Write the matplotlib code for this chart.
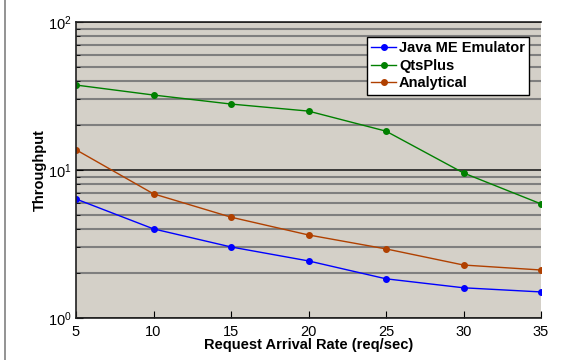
import numpy as np
import matplotlib
matplotlib.use("Agg")
import matplotlib.pyplot as plt
from matplotlib.lines import Line2D

plt.rcParams['font.family'] = ['Liberation Sans', 'DejaVu Sans']
plt.rcParams['mathtext.fontset'] = 'custom'
plt.rcParams['mathtext.rm'] = 'Liberation Sans'

# Data
rate = [5, 10, 15, 20, 25, 30, 35]
java_me = [6.37, 4.0, 3.02, 2.43, 1.84, 1.6, 1.5]
qtsplus = [37.5, 32.1, 27.9, 25.0, 18.3, 9.55, 5.9]
analytical = [13.7, 6.9, 4.8, 3.64, 2.93, 2.28, 2.11]

fig = plt.figure(figsize=(5.64, 3.6), dpi=100)
ax = fig.add_axes([76 / 564, 1 - 318 / 360, (541 - 76) / 564, (318 - 22) / 360])
ax.set_facecolor("#d4d0c8")

ax.plot(rate, java_me, color="#0000ff", marker="o", ms=4, lw=1, label="Java ME Emulator")
ax.plot(rate, qtsplus, color="#008000", marker="o", ms=4, lw=1, label="QtsPlus")
ax.plot(rate, analytical, color="#b04000", marker="o", ms=4, lw=1, label="Analytical")

ax.set_yscale("log")
ax.set_ylim(1, 100)
ax.set_xlim(5, 35)
ax.set_xticks(rate)

ax.grid(True, which="minor", axis="y", color="#7f7f7f", lw=1.5)
ax.grid(True, which="major", axis="y", color="#202020", lw=1.2)
ax.set_axisbelow(True)

ax.spines["right"].set_visible(False)
for s in ("left", "bottom", "top"):
    ax.spines[s].set_color("#202020")
    ax.spines[s].set_linewidth(1.2)

ax.tick_params(which="both", direction="in", labelsize=10.5)
ax.tick_params(axis="x", pad=5)
ax.tick_params(axis="y", pad=3)
ax.tick_params(which="major", length=5)
ax.tick_params(which="minor", length=3)
ax.tick_params(axis="x", which="minor", bottom=False)

ax.set_xlabel("Request Arrival Rate (req/sec)", fontsize=10.5, fontweight="bold", labelpad=-1)
ax.set_ylabel("Throughput", fontsize=10.5, fontweight="bold")
ax.yaxis.set_label_coords(-0.062, 0.5)

leg = ax.legend(loc="upper right", bbox_to_anchor=(0.975, 0.95),
                prop={"weight": "bold", "size": 10.5}, frameon=True, fancybox=False,
                edgecolor="black", framealpha=1, handlelength=1.7, handletextpad=0.2,
                borderpad=0.3, labelspacing=0.25, borderaxespad=0)
leg.get_frame().set_linewidth(1)

# left border of the exported figure
fig.add_artist(Line2D([4.5 / 564, 4.5 / 564], [0, 1], color="#808080", lw=1.2,
                      transform=fig.transFigure))

fig.savefig("out.png", dpi=100)
